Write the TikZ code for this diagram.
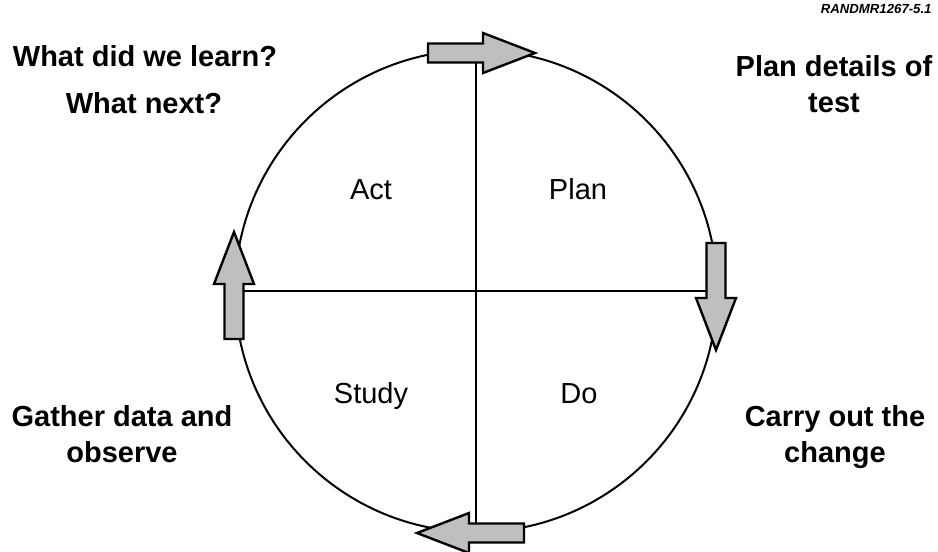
\documentclass[tikz,border=0pt]{standalone}
\usepackage{fontspec}
\setmainfont{Liberation Sans}
\definecolor{arrowgray}{gray}{0.75}
\tikzset{
  cycle line/.style={line width=1pt},
  turn arrow/.style={draw,fill=arrowgray,line width=1.2pt,line join=miter},
  outer label/.style={font=\fontsize{14.5}{18}\selectfont\bfseries,align=center,anchor=base,inner sep=0pt},
  quarter label/.style={font=\fontsize{14.5}{18}\selectfont,anchor=base,inner sep=0pt}
}
\newcommand{\turnarrow}[2]{%
  \draw [turn arrow,shift={(#1)},rotate=#2] (-48,-9.5) -- (7,-9.5) -- (7,-20) -- (59,0) -- (7,20) -- (7,9.5) -- (-48,9.5) -- cycle;}

\begin{document}
\begin{tikzpicture}[line cap=round,line join=round,x=0.5pt,y=-0.5pt]
\useasboundingbox (0,0) rectangle (938,552);
\coordinate (o) at (476,291);
\coordinate (ta) at (476,53);
\coordinate (ra) at (716,291);
\coordinate (ba) at (476,533);
\coordinate (la) at (234,291);
\draw [cycle line] (o) circle [radius=241];
\draw [cycle line] (ta) -- (ba);
\draw [cycle line] (la) -- (ra);
\turnarrow{ta}{0}
\turnarrow{ra}{-90}
\turnarrow{ba}{180}
\turnarrow{la}{90}
\node [quarter label] (act) at (371,199) {Act};
\node [quarter label] (plan) at (578,199) {Plan};
\node [quarter label] (study) at (371,403) {Study};
\node [quarter label] (do) at (579,403) {Do};
\node [outer label] (learn) at (145,66) {What did we learn?};
\node [outer label] (next) at (144,113) {What next?};
% base of a two-line node is the last line
\node [outer label] (details) at (834,112) {Plan details of\\test};
\node [outer label] (gather) at (122,462) {Gather data and\\observe};
\node [outer label] (carry) at (835,462) {Carry out the\\change};
\node [font=\fontsize{6.6}{8}\selectfont\bfseries\itshape,anchor=base east,inner sep=0pt] (figid) at (932,13) {RANDMR1267-5.1};
\end{tikzpicture}
\end{document}
